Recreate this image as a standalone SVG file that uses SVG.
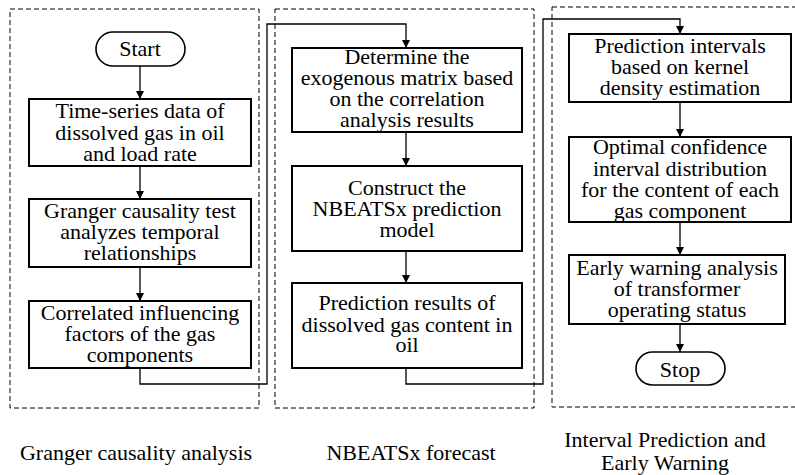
<svg xmlns="http://www.w3.org/2000/svg" width="795" height="475" viewBox="0 0 795 475">
<style>
.panel{fill:none;stroke:#000;stroke-width:1;stroke-dasharray:5,3}
.box{fill:#fff;stroke:#000;stroke-width:2}
.term{fill:#fff;stroke:#000;stroke-width:1.6}
.conn{fill:none;stroke:#000;stroke-width:1.3}
.t{font-family:'Liberation Serif','Times New Roman',serif;font-size:22px;fill:#000;text-anchor:middle}
</style>
<defs>
<marker id="arr" viewBox="0 0 10 10" refX="10" refY="5" markerWidth="8" markerHeight="8" markerUnits="userSpaceOnUse" orient="auto">
<path d="M0,0 L10,5 L0,10 Z" fill="#000"/>
</marker>
</defs>
<rect width="795" height="475" fill="#fff"/>
<g id="panels">
<rect class="panel" x="10" y="9" width="249" height="399"/>
<rect class="panel" x="275" y="9" width="259" height="399"/>
<rect class="panel" x="552" y="7" width="250" height="400"/>
</g>
<g id="connectors">
<line class="conn" x1="140" y1="66" x2="140" y2="99" marker-end="url(#arr)"/>
<line class="conn" x1="140" y1="166" x2="140" y2="199" marker-end="url(#arr)"/>
<line class="conn" x1="140" y1="267" x2="140" y2="301" marker-end="url(#arr)"/>
<polyline class="conn" points="140,368 140,384 267,384 267,24 406,24 406,48" marker-end="url(#arr)"/>
<line class="conn" x1="406" y1="132" x2="406" y2="166" marker-end="url(#arr)"/>
<line class="conn" x1="406" y1="251" x2="406" y2="283" marker-end="url(#arr)"/>
<polyline class="conn" points="406,368 406,384 543,384 543,19 680,19 680,34" marker-end="url(#arr)"/>
<line class="conn" x1="680" y1="102" x2="680" y2="137" marker-end="url(#arr)"/>
<line class="conn" x1="680" y1="222" x2="680" y2="255" marker-end="url(#arr)"/>
<line class="conn" x1="680" y1="324" x2="680" y2="352" marker-end="url(#arr)"/>
</g>
<g id="start">
<rect class="term" x="96" y="32" width="89" height="34" rx="17"/>
<text class="t" x="140" y="56">Start</text>
</g>
<g id="n1">
<rect class="box" x="29" y="99" width="222" height="67"/>
<text class="t" x="140" y="117.5">Time-series data of</text>
<text class="t" x="140" y="139.5">dissolved gas in oil</text>
<text class="t" x="140" y="161">and load rate</text>
</g>
<g id="n2">
<rect class="box" x="29" y="199" width="222" height="68"/>
<text class="t" x="140" y="217.5">Granger causality test</text>
<text class="t" x="140" y="239">analyzes temporal</text>
<text class="t" x="140" y="259.5">relationships</text>
</g>
<g id="n3">
<rect class="box" x="29" y="301" width="222" height="67"/>
<text class="t" x="140" y="319.5">Correlated influencing</text>
<text class="t" x="140" y="341">factors of the gas</text>
<text class="t" x="140" y="361.5">components</text>
</g>
<g id="n4">
<rect class="box" x="292" y="48" width="230" height="84"/>
<text class="t" x="407" y="63.5">Determine the</text>
<text class="t" x="407" y="85">exogenous matrix based</text>
<text class="t" x="407" y="106">on the correlation</text>
<text class="t" x="407" y="127">analysis results</text>
</g>
<g id="n5">
<rect class="box" x="292" y="166" width="230" height="85"/>
<text class="t" x="407" y="195">Construct the</text>
<text class="t" x="407" y="216">NBEATSx prediction</text>
<text class="t" x="407" y="237">model</text>
</g>
<g id="n6">
<rect class="box" x="292" y="283" width="230" height="85"/>
<text class="t" x="407" y="310">Prediction results of</text>
<text class="t" x="407" y="331.5">dissolved gas content in</text>
<text class="t" x="407" y="352">oil</text>
</g>
<g id="n7">
<rect class="box" x="569" y="34" width="222" height="68"/>
<text class="t" x="680" y="53">Prediction intervals</text>
<text class="t" x="680" y="74">based on kernel</text>
<text class="t" x="680" y="95">density estimation</text>
</g>
<g id="n8">
<rect class="box" x="569" y="137" width="222" height="85"/>
<text class="t" x="680" y="154">Optimal confidence</text>
<text class="t" x="680" y="175.5">interval distribution</text>
<text class="t" x="680" y="197">for the content of each</text>
<text class="t" x="680" y="218">gas component</text>
</g>
<g id="n9">
<rect class="box" x="569" y="255" width="216" height="69"/>
<text class="t" x="677" y="275">Early warning analysis</text>
<text class="t" x="677" y="296">of transformer</text>
<text class="t" x="677" y="317">operating status</text>
</g>
<g id="stop">
<rect class="term" x="636" y="352" width="89" height="33" rx="16.5"/>
<text class="t" x="680" y="376.5">Stop</text>
</g>
<g id="captions">
<text class="t" x="136" y="460">Granger causality analysis</text>
<text class="t" x="411" y="460">NBEATSx forecast</text>
<text class="t" x="665" y="446.5">Interval Prediction and</text>
<text class="t" x="665" y="470">Early Warning</text>
</g>
</svg>
